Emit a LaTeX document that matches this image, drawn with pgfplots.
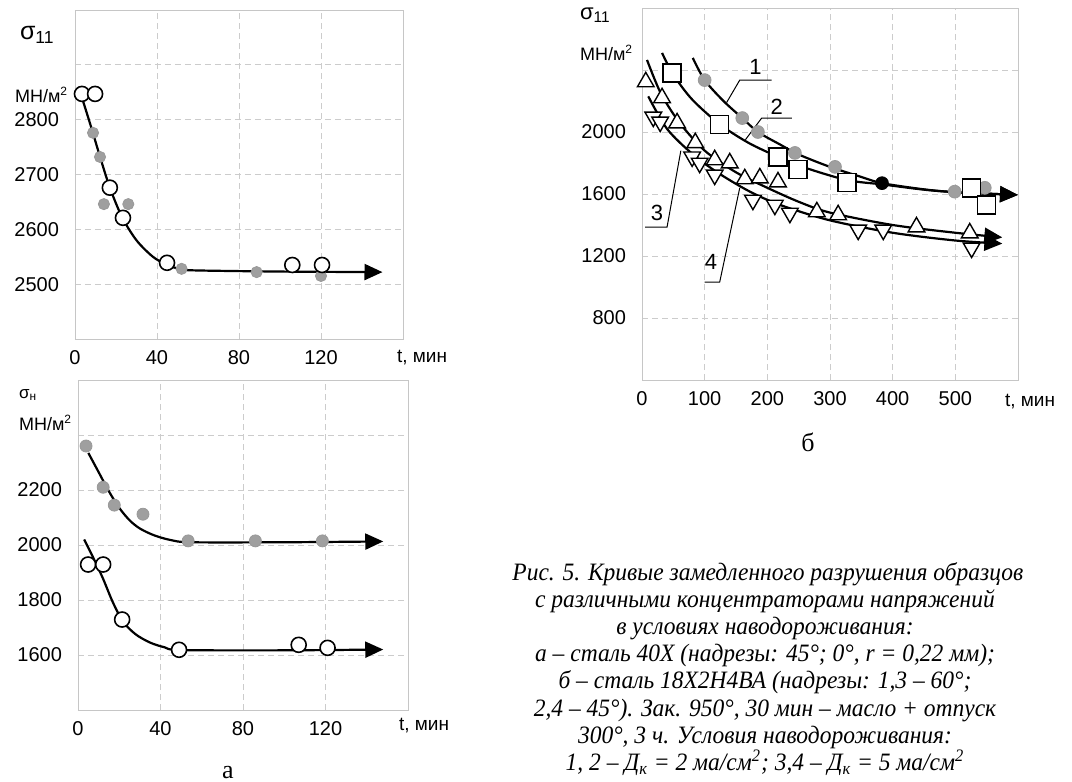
\documentclass[border=0pt]{standalone}
\usepackage{pgfplots}
\pgfplotsset{compat=1.18}
\usepackage{fontspec}
\setmainfont{Liberation Serif}
\newfontfamily\arial{Liberation Sans}
\usetikzlibrary{arrows.meta}

\pgfplotsset{
  panel/.style={
    scale only axis,
    axis line style={gray!45, line width=0.4pt},
    grid=major,
    grid style={gray!40, densely dashed, line width=0.4pt},
    major tick length=0pt,
    tick label style={font=\arial\fontsize{10}{11}\selectfont, text=black},
    yticklabel style={xshift=-4.5pt},
    xticklabel style={yshift=-2pt},
    /pgf/number format/assume math mode=true,
    clip=false,
  },
  curve/.style={black, line width=1.1pt, smooth, tension=0.5, mark=none,
    -{Triangle[length=9pt,width=8pt]}},
  opencirc/.style={only marks, mark=*, mark size=3.75pt,
    mark options={fill=white, draw=black, line width=0.8pt}},
  graycirc/.style={only marks, mark=*, mark size=2.8pt,
    mark options={fill=gray!75, draw=gray!80}},
}
\newcommand\capline[1]{\scalebox{0.94}[1]{#1}}

\begin{document}
\begin{tikzpicture}
\path[use as bounding box] (0,0) rectangle (536pt,-391pt);

% --- a, top: sigma_11
\begin{axis}[panel, anchor=south west, at={(37.5pt,-169.5pt)},
  width=164pt, height=164.5pt,
  xmin=0, xmax=160, ymin=2400, ymax=3000,
  xtick={0,40,...,160}, xticklabels={0,40,80,120,{}},
  ytick={2400,2500,...,3000}, yticklabels={{},2500,2600,2700,2800,{},{}},
]
\addplot[curve] coordinates {
  (3,2845) (8,2785) (12,2735) (17,2676) (23,2622) (30,2580) (38,2550)
  (45,2535) (52,2527) (60,2525) (100,2523) (150,2522)};
\addplot[graycirc] coordinates {
  (8.8,2776) (12.2,2732) (14.1,2646) (26,2646) (52,2528) (88.6,2522) (120,2515)};
\addplot[opencirc] coordinates {
  (3.4,2847) (9.8,2847) (17,2676) (23.4,2621) (44.9,2539) (106,2535) (120.5,2535)};
\end{axis}

% --- a, bottom: sigma_n
\begin{axis}[panel, anchor=south west, at={(39pt,-355pt)},
  width=165pt, height=165pt,
  xmin=0, xmax=160, ymin=1400, ymax=2600,
  xtick={0,40,...,160}, xticklabels={0,40,80,120,{}},
  ytick={1400,1600,...,2600}, yticklabels={{},1600,1800,2000,2200,{},{}},
]
\addplot[curve] coordinates {
  (5,2335) (10,2265) (15,2195) (20,2135) (25,2090) (30,2060) (37,2035)
  (45,2018) (55,2010) (100,2010) (148,2013)};
\addplot[curve] coordinates {
  (3,2020) (7,1960) (12,1880) (17,1790) (22,1720) (28,1675) (35,1645)
  (42,1628) (50,1618) (100,1617) (148,1620)};
\addplot[graycirc, mark size=3pt] coordinates {
  (3.9,2360) (12.2,2210) (17.6,2145) (31.5,2112) (53.4,2015) (86,2015) (118.5,2015)};
\addplot[opencirc] coordinates {
  (4.9,1929) (12.2,1929) (21.4,1729) (49,1619) (107,1637) (121,1626)};
\end{axis}

% --- b
\begin{axis}[panel, anchor=south west, at={(321pt,-190pt)},
  width=188pt, height=186pt,
  xmin=0, xmax=600, ymin=400, ymax=2800,
  xtick={0,100,...,600}, xticklabels={0,100,200,300,400,500,{}},
  ytick={400,800,...,2800}, yticklabels={{},800,1200,1600,2000,{},{}},
]
\addplot[curve] coordinates {
  (81,2478) (100,2335) (130,2200) (160,2090) (185,2000) (220,1920) (250,1855)
  (300,1775) (350,1710) (383,1670) (450,1630) (500,1612) (600,1594)};
\addplot[curve] coordinates {
  (32,2510) (50,2370) (80,2210) (124,2050) (170,1930) (217,1840) (260,1770)
  (327,1690) (383,1662) (450,1628) (500,1612) (600,1594)};
\addplot[curve] coordinates {
  (8,2465) (30,2250) (60,2060) (100,1880) (150,1740) (200,1640) (250,1550)
  (300,1480) (400,1400) (500,1350) (575,1320)};
\addplot[curve] coordinates {
  (10,2230) (40,2020) (80,1860) (120,1740) (170,1620) (220,1530) (300,1430)
  (400,1350) (500,1300) (575,1280)};
\addplot[graycirc, mark size=3.2pt] coordinates {
  (100,2335) (160,2090) (185,2000) (244,1865) (308,1775) (499,1615) (547,1640)};
\addplot[only marks, mark=*, mark size=3.2pt, mark options={fill=black}] coordinates {(383,1670)};
\addplot[only marks, mark=square*, mark size=4.5pt,
  mark options={fill=white, draw=black, line width=0.7pt}] coordinates {
  (48,2380) (124,2050) (217,1840) (249,1760) (327,1673) (526,1640) (550,1530)};
\addplot[only marks, mark=triangle*, mark size=4.8pt,
  mark options={fill=white, draw=black, line width=0.7pt}] coordinates {
  (6,2323) (32,2220) (56,2058) (85,1930) (116,1820) (140,1800) (164,1697)
  (188,1703) (217,1677) (279,1484) (313,1465) (438,1387) (523,1348)};
\addplot[only marks, mark=triangle*, mark size=4.8pt,
  mark options={fill=white, draw=black, line width=0.7pt, rotate=180}] coordinates {
  (18,2097) (29,2065) (80,1840) (92,1800) (116,1723) (177,1561) (212,1529)
  (236,1477) (345,1368) (385,1368) (526,1252)};
% curve labels
\draw[line width=0.5pt] (axis cs:135,2190) -- (axis cs:156,2335) -- (axis cs:207,2335);
\node[font=\arial\fontsize{11}{12}\selectfont] at (axis cs:181,2420) {1};
\draw[line width=0.5pt] (axis cs:165,1950) -- (axis cs:191,2090) -- (axis cs:239,2090);
\node[font=\arial\fontsize{11}{12}\selectfont] at (axis cs:215,2160) {2};
\draw[line width=0.5pt] (axis cs:62,1880) -- (axis cs:40,1387) -- (axis cs:5,1387);
\node[font=\arial\fontsize{11}{12}\selectfont] at (axis cs:24,1480) {3};
\draw[line width=0.5pt] (axis cs:156,1640) -- (axis cs:124,1032) -- (axis cs:100,1032);
\node[font=\arial\fontsize{11}{12}\selectfont] at (axis cs:110,1160) {4};
\end{axis}

% axis titles and units
\node[anchor=west, font=\arial\fontsize{12.5}{14}\selectfont] at (6.5pt,-17.5pt) {σ\textsubscript{11}};
\node[anchor=west, font=\arial\fontsize{9}{10}\selectfont] at (4pt,-47.5pt) {МН/м\textsuperscript{2}};
\node[anchor=west, font=\arial\fontsize{8.5}{9}\selectfont] at (6pt,-197.5pt) {σ\textsubscript{н}};
\node[anchor=west, font=\arial\fontsize{9}{10}\selectfont] at (6pt,-211.5pt) {МН/м\textsuperscript{2}};
\node[anchor=west, font=\arial\fontsize{11}{12}\selectfont] at (286.5pt,-7.5pt) {σ\textsubscript{11}};
\node[anchor=west, font=\arial\fontsize{9}{10}\selectfont] at (286.5pt,-26.5pt) {МН/м\textsuperscript{2}};
\node[anchor=west, font=\arial\fontsize{9.5}{11}\selectfont] at (195pt,-179pt) {t, мин};
\node[anchor=west, font=\arial\fontsize{9.5}{11}\selectfont] at (196pt,-363pt) {t, мин};
\node[anchor=west, font=\arial\fontsize{9.5}{11}\selectfont] at (499pt,-201pt) {t, мин};
\node[font=\fontsize{13}{14}\selectfont] at (114pt,-386.5pt) {а};
\node[font=\fontsize{13}{14}\selectfont] at (404pt,-221pt) {б};

% caption
\begin{scope}[every node/.style={font=\itshape\fontsize{12.5}{14}\selectfont, anchor=base, inner sep=0pt}]
\node[anchor=base west] at (256pt,-290pt) {\capline{Рис. 5. Кривые замедленного разрушения образцов}};
\node at (382.5pt,-303.6pt) {\capline{с различными концентраторами напряжений}};
\node at (382.5pt,-317.2pt) {\capline{в условиях наводороживания:}};
\node at (382.5pt,-330.8pt) {\capline{а – сталь 40Х (надрезы: 45°; 0°, r = 0,22 мм);}};
\node at (382.5pt,-344.4pt) {\capline{б – сталь 18Х2Н4ВА (надрезы: 1,3 – 60°;}};
\node at (382.5pt,-358pt) {\capline{2,4 – 45°). Зак. 950°, 30 мин – масло + отпуск}};
\node at (382.5pt,-371.6pt) {\capline{300°, 3 ч. Условия наводороживания:}};
\node at (382.5pt,-385.2pt) {\capline{1, 2 – Д\textsubscript{к} = 2 ма/см\textsuperscript{2}; 3,4 – Д\textsubscript{к} = 5 ма/см\textsuperscript{2}}};
\end{scope}
\end{tikzpicture}
\end{document}
